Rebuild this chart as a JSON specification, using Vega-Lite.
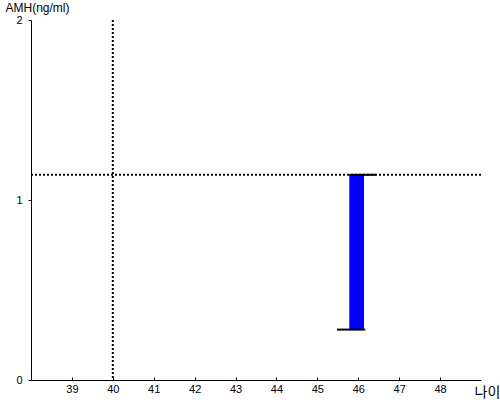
{
  "$schema": "https://vega.github.io/schema/vega-lite/v6.json",
  "width": 450,
  "height": 360,
  "autosize": {"type": "none"},
  "padding": {"left": 31, "top": 20, "right": 19, "bottom": 20},
  "background": "white",
  "config": {
    "view": {"stroke": null},
    "axis": {"labelFont": "Liberation Sans", "labelColor": "#000000", "domainColor": "#000000", "tickColor": "#000000", "grid": false, "labelFontSize": 11}
  },
  "datasets": {
    "bars": [{"age_from": 45.78, "age_to": 46.14, "low": 0.28, "high": 1.14}],
    "caps": [
      {"cap": "high", "age_from": 45.78, "age_to": 46.44, "amh": 1.14},
      {"cap": "low", "age_from": 45.48, "age_to": 46.17, "amh": 0.28}
    ],
    "refx": [{"age": 40}],
    "refy": [{"amh": 1.14}]
  },
  "layer": [
    {
      "data": {"name": "refy"},
      "mark": {"type": "rule", "strokeDash": [2, 2], "strokeWidth": 2, "color": "#000000"},
      "encoding": {
        "y": {"field": "amh", "type": "quantitative", "scale": {"domain": [0, 2], "nice": false, "zero": true},
          "axis": {"values": [0, 1, 2], "format": ".0f", "labelOverlap": false, "labelFlush": false, "tickSize": 3, "labelPadding": 6, "domainWidth": 1,
            "title": "AMH(ng/ml)", "titleAngle": 0, "titleAlign": "left", "titleBaseline": "alphabetic",
            "titleX": -26, "titleY": -9, "titleFont": "Liberation Sans", "titleFontSize": 12, "titleFontWeight": "normal", "titleColor": "#000000"}}
      }
    },
    {
      "data": {"name": "refx"},
      "mark": {"type": "rule", "strokeDash": [2, 2], "strokeWidth": 2, "color": "#000000"},
      "encoding": {
        "x": {"field": "age", "type": "quantitative", "scale": {"domain": [38, 49], "nice": false, "zero": false},
          "axis": {"values": [39, 40, 41, 42, 43, 44, 45, 46, 47, 48], "tickSize": -3, "labelPadding": 6, "labelBaseline": "top",
            "title": "나이", "titleAlign": "left", "titleBaseline": "alphabetic", "titleX": 443, "titleY": 16,
            "titleFont": "Noto Sans CJK KR", "titleFontSize": 14, "titleFontWeight": "normal", "titleColor": "#000000"}}
      }
    },
    {
      "data": {"name": "bars"},
      "mark": {"type": "bar", "color": "#0000FF"},
      "encoding": {
        "x": {"field": "age_from", "type": "quantitative"},
        "x2": {"field": "age_to"},
        "y": {"field": "low", "type": "quantitative"},
        "y2": {"field": "high"}
      }
    },
    {
      "data": {"name": "caps"},
      "mark": {"type": "rule", "strokeWidth": 2, "color": "#000000"},
      "encoding": {
        "x": {"field": "age_from", "type": "quantitative"},
        "x2": {"field": "age_to"},
        "y": {"field": "amh", "type": "quantitative"}
      }
    }
  ]
}
